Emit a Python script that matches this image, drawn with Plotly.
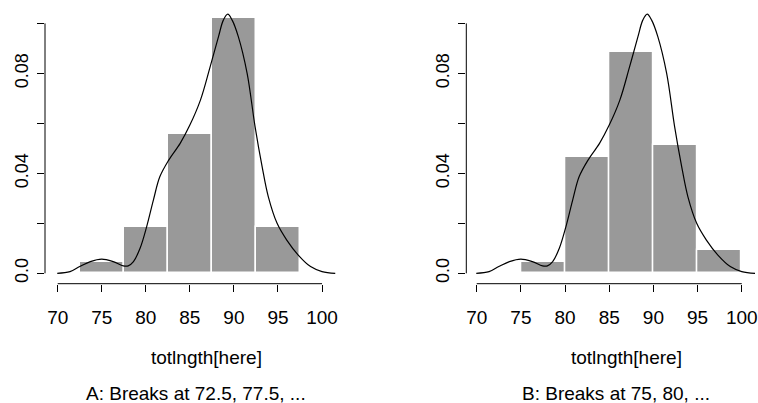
import plotly.graph_objects as go

# Panel A: breaks at 72.5, 77.5, ...
breaks_a = [72.5, 77.5, 82.5, 87.5, 92.5, 97.5]
dens_a = [0.00465, 0.0186, 0.0558, 0.1023, 0.0186]
# Panel B: breaks at 75, 80, ...
breaks_b = [75, 80, 85, 90, 95, 100]
dens_b = [0.00465, 0.0465, 0.0884, 0.0512, 0.0093]

# Kernel density estimate
kde_x = [69.95, 71.4, 72.5, 73.7, 75.0, 76.3, 77.45, 78.0, 78.6, 79.35, 80.1, 80.86,
         81.6, 82.6, 83.9, 85.0, 86.2, 87.3, 88.25, 88.8, 89.3, 89.8, 90.5, 91.5,
         92.4, 93.2, 93.9, 94.9, 96.0, 97.3, 98.7, 100.0, 101.5]
kde_y = [0.0, 0.00065, 0.0027, 0.0047, 0.0057, 0.0047, 0.003, 0.003, 0.0047, 0.010,
         0.0187, 0.0293, 0.0387, 0.0453, 0.052, 0.0593, 0.0693, 0.0826, 0.0947, 0.1013,
         0.1037, 0.1013, 0.0947, 0.080, 0.0587, 0.0427, 0.0307, 0.020, 0.0133, 0.0073,
         0.0027, 0.0007, 0.0]

x_ticks = [70, 75, 80, 85, 90, 95, 100]
y_ticks = [0.0, 0.02, 0.04, 0.06, 0.08, 0.10]
y_ticktext = ["0.0", "", "0.04", "", "0.08", ""]
x_title = "totlngth[here]"
subtitles = ["A: Breaks at 72.5, 77.5, ...", "B: Breaks at 75, 80, ..."]

W, H = 758, 403
FONT = "Liberation Sans, Arial, sans-serif"

fig = go.Figure()

panels = [
    dict(breaks=breaks_a, dens=dens_a, xa="x", ya="y", dom=(45, 346.7), rng=(68.56, 102.8),
         tx=206, sx=196, sub=subtitles[0]),
    dict(breaks=breaks_b, dens=dens_b, xa="x2", ya="y2", dom=(466.3, 758), rng=(68.82, 101.84),
         tx=626, sx=616, sub=subtitles[1]),
]

for p in panels:
    mids = [(a + b) / 2 for a, b in zip(p["breaks"][:-1], p["breaks"][1:])]
    widths = [b - a for a, b in zip(p["breaks"][:-1], p["breaks"][1:])]
    fig.add_trace(go.Bar(x=mids, y=p["dens"], width=widths, xaxis=p["xa"], yaxis=p["ya"],
                         marker=dict(color="#999999", line=dict(color="white", width=1.5)),
                         showlegend=False, hoverinfo="skip"))
    fig.add_trace(go.Scatter(x=kde_x, y=kde_y, mode="lines", xaxis=p["xa"], yaxis=p["ya"],
                             line=dict(color="black", width=1.2, shape="spline"),
                             showlegend=False, hoverinfo="skip"))

y_dom = (1 - 283.7 / H, 1 - 3 / H)
y_rng = (-0.00416, 0.10816)

layout = dict(width=W, height=H, margin=dict(l=0, r=0, t=0, b=0, autoexpand=False),
              plot_bgcolor="white", paper_bgcolor="white", bargap=0,
              font=dict(family=FONT, color="black"))
shapes = []
annotations = []
for i, p in enumerate(panels):
    suffix = "" if i == 0 else "2"
    layout["xaxis" + suffix] = dict(
        domain=[p["dom"][0] / W, p["dom"][1] / W], range=list(p["rng"]),
        anchor="y" + suffix, tickvals=x_ticks, ticks="outside", ticklen=7, tickwidth=1,
        tickcolor="black", showgrid=False, zeroline=False, showline=False, automargin=False,
        tickfont=dict(size=19, family=FONT), ticklabelstandoff=9)
    layout["yaxis" + suffix] = dict(
        domain=list(y_dom), range=list(y_rng), anchor="x" + suffix,
        tickvals=y_ticks, ticktext=y_ticktext, tickangle=-90, ticks="outside",
        ticklen=7, tickwidth=1, tickcolor="black", showgrid=False, zeroline=False,
        showline=False, automargin=False, tickfont=dict(size=18, family=FONT),
        ticklabelstandoff=2)
    shapes.append(dict(type="line", xref="x" + suffix, yref="y" + suffix + " domain",
                       x0=x_ticks[0], x1=x_ticks[-1], y0=0, y1=0,
                       line=dict(color="black", width=1)))
    shapes.append(dict(type="line", xref="x" + suffix + " domain", yref="y" + suffix,
                       x0=0, x1=0, y0=y_ticks[0], y1=y_ticks[-1],
                       line=dict(color="black", width=1)))
    annotations.append(dict(text=x_title, xref="paper", yref="paper", x=p["tx"] / W,
                            y=1 - 357 / H, xanchor="center", yanchor="middle",
                            showarrow=False, font=dict(size=19, family=FONT)))
    annotations.append(dict(text=p["sub"], xref="paper", yref="paper", x=p["sx"] / W,
                            y=1 - 393 / H, xanchor="center", yanchor="middle",
                            showarrow=False, font=dict(size=19, family=FONT)))

layout["shapes"] = shapes
layout["annotations"] = annotations
fig.update_layout(**layout)
fig.write_html("out.html", config={"displayModeBar": False},
               post_script="document.body.style.margin='0px';document.body.style.overflow='hidden';")
